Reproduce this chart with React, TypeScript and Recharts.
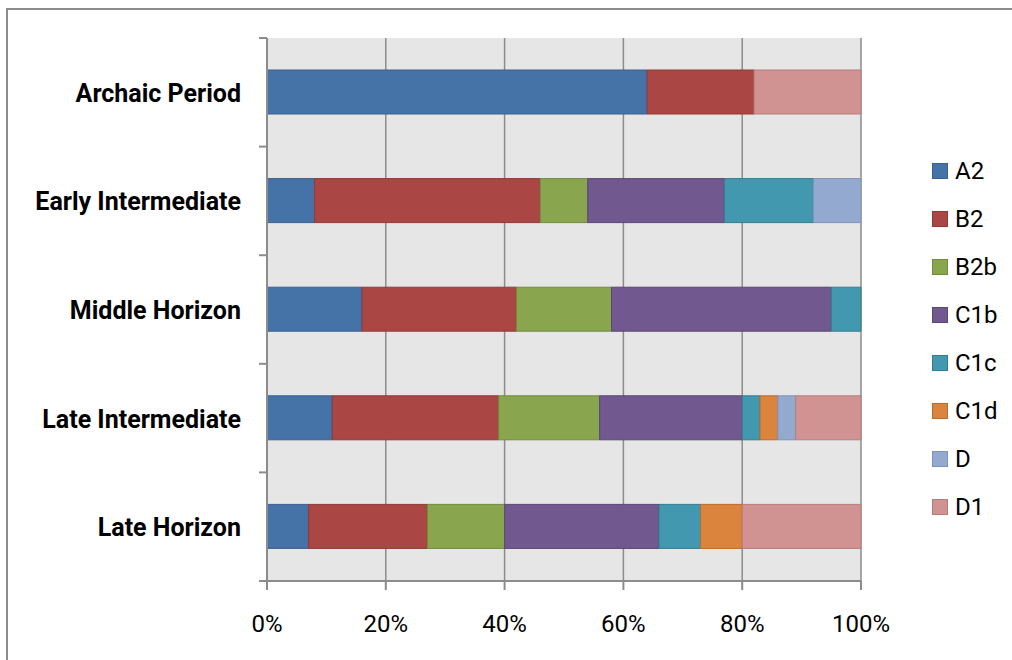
import { BarChart, Bar, XAxis, YAxis, CartesianGrid, Legend } from 'recharts'

// Share of each haplogroup per period, in percent (rows sum to 100)
const periods = ['Archaic Period', 'Early Intermediate', 'Middle Horizon', 'Late Intermediate', 'Late Horizon']
const groups = ['A2', 'B2', 'B2b', 'C1b', 'C1c', 'C1d', 'D', 'D1']

const A2 = [64, 8, 16, 11, 7]
const B2 = [18, 38, 26, 28, 20]
const B2b = [0, 8, 16, 17, 13]
const C1b = [0, 23, 37, 24, 26]
const C1c = [0, 15, 5, 3, 7]
const C1d = [0, 0, 0, 3, 7]
const D = [0, 8, 0, 3, 0]
const D1 = [18, 0, 0, 11, 20]

const xTicks = [0, 20, 40, 60, 80, 100]

const fills = ['#4572A7', '#AA4643', '#89A54E', '#71588F', '#4198AF', '#DB843D', '#93A9CF', '#D19392']
const strokes = ['#3a6090', '#8f3a37', '#728a3f', '#5c4675', '#347d91', '#b96c2e', '#7d93b8', '#b57d7c']

const seriesValues = [A2, B2, B2b, C1b, C1c, C1d, D, D1]

const data = periods.map((period, i) => {
  const row: Record<string, string | number> = { period }
  groups.forEach((g, k) => { row[g] = seriesValues[k][i] })
  return row
})

const AXIS_GRAY = '#8c8c8c'
const TICK_SIZE = 8
const TICK_MARGIN = 18

// Category label at the band centre, tick marks on the band edges (Excel style)
function PeriodTick(props: any) {
  const { x, y, payload, index } = props
  const half = payload?.offset ?? 0
  const axisX = x + TICK_SIZE + TICK_MARGIN
  return (
    <g>
      <line x1={axisX - TICK_SIZE} x2={axisX} y1={y - half} y2={y - half} stroke={AXIS_GRAY} strokeWidth={2} />
      {index === periods.length - 1 && (
        <line x1={axisX - TICK_SIZE} x2={axisX} y1={y + half} y2={y + half} stroke={AXIS_GRAY} strokeWidth={2} />
      )}
      <text x={x} y={y + 1} textAnchor="end" dominantBaseline="central" fontSize={25} fontWeight={700} fill="#000">
        {payload.value}
      </text>
    </g>
  )
}

function GroupLegend() {
  return (
    <div style={{ paddingTop: 147, paddingLeft: 71 }}>
      {groups.map((g, k) => (
        <div key={g} style={{ height: 48, display: 'flex', alignItems: 'center' }}>
          <span
            style={{
              display: 'inline-block', width: 14, height: 14, background: fills[k],
              border: `1px solid ${strokes[k]}`, marginRight: 7,
            }}
          />
          <span style={{ fontSize: 24, color: '#000', lineHeight: '24px' }}>{g}</span>
        </div>
      ))}
    </div>
  )
}

export default function App() {
  return (
    <div style={{ position: 'absolute', left: 0, top: 0, width: 1012, height: 660, overflow: 'hidden', background: '#fff', fontFamily: 'Roboto, sans-serif' }}>
      <div style={{ position: 'absolute', left: 6, top: 8, right: -10, bottom: -10, borderLeft: `2px solid ${AXIS_GRAY}`, borderTop: `2px solid ${AXIS_GRAY}` }} />
      <div style={{ position: 'absolute', left: 0, top: 0 }}>
        <BarChart
          width={1012}
          height={660}
          data={data}
          layout="vertical"
          margin={{ top: 38, right: 0, bottom: 0, left: 0 }}
          barSize={44}
        >
          <CartesianGrid horizontal={false} stroke={AXIS_GRAY} strokeWidth={1.5} fill="#e6e6e6" />
          <XAxis
            type="number"
            domain={[0, 100]}
            ticks={xTicks}
            tickFormatter={(v: number) => `${v}%`}
            height={79}
            tickSize={9}
            tickMargin={25}
            axisLine={{ stroke: AXIS_GRAY, strokeWidth: 2 }}
            tickLine={{ stroke: AXIS_GRAY, strokeWidth: 2 }}
            tick={{ fill: '#000', fontSize: 24 }}
            interval={0}
          />
          <YAxis
            type="category"
            dataKey="period"
            width={267}
            tickSize={TICK_SIZE}
            tickMargin={TICK_MARGIN}
            tickLine={false}
            axisLine={{ stroke: AXIS_GRAY, strokeWidth: 2 }}
            tick={<PeriodTick />}
            interval={0}
          />
          <Legend
            layout="vertical"
            align="right"
            verticalAlign="top"
            width={151}
            wrapperStyle={{ top: 0, right: 0, width: 151, height: 660 }}
            content={<GroupLegend />}
          />
          {groups.map((g, k) => (
            <Bar
              key={g}
              dataKey={g}
              stackId="share"
              fill={fills[k]}
              stroke={strokes[k]}
              strokeWidth={1}
              isAnimationActive={false}
            />
          ))}
        </BarChart>
      </div>
    </div>
  )
}
